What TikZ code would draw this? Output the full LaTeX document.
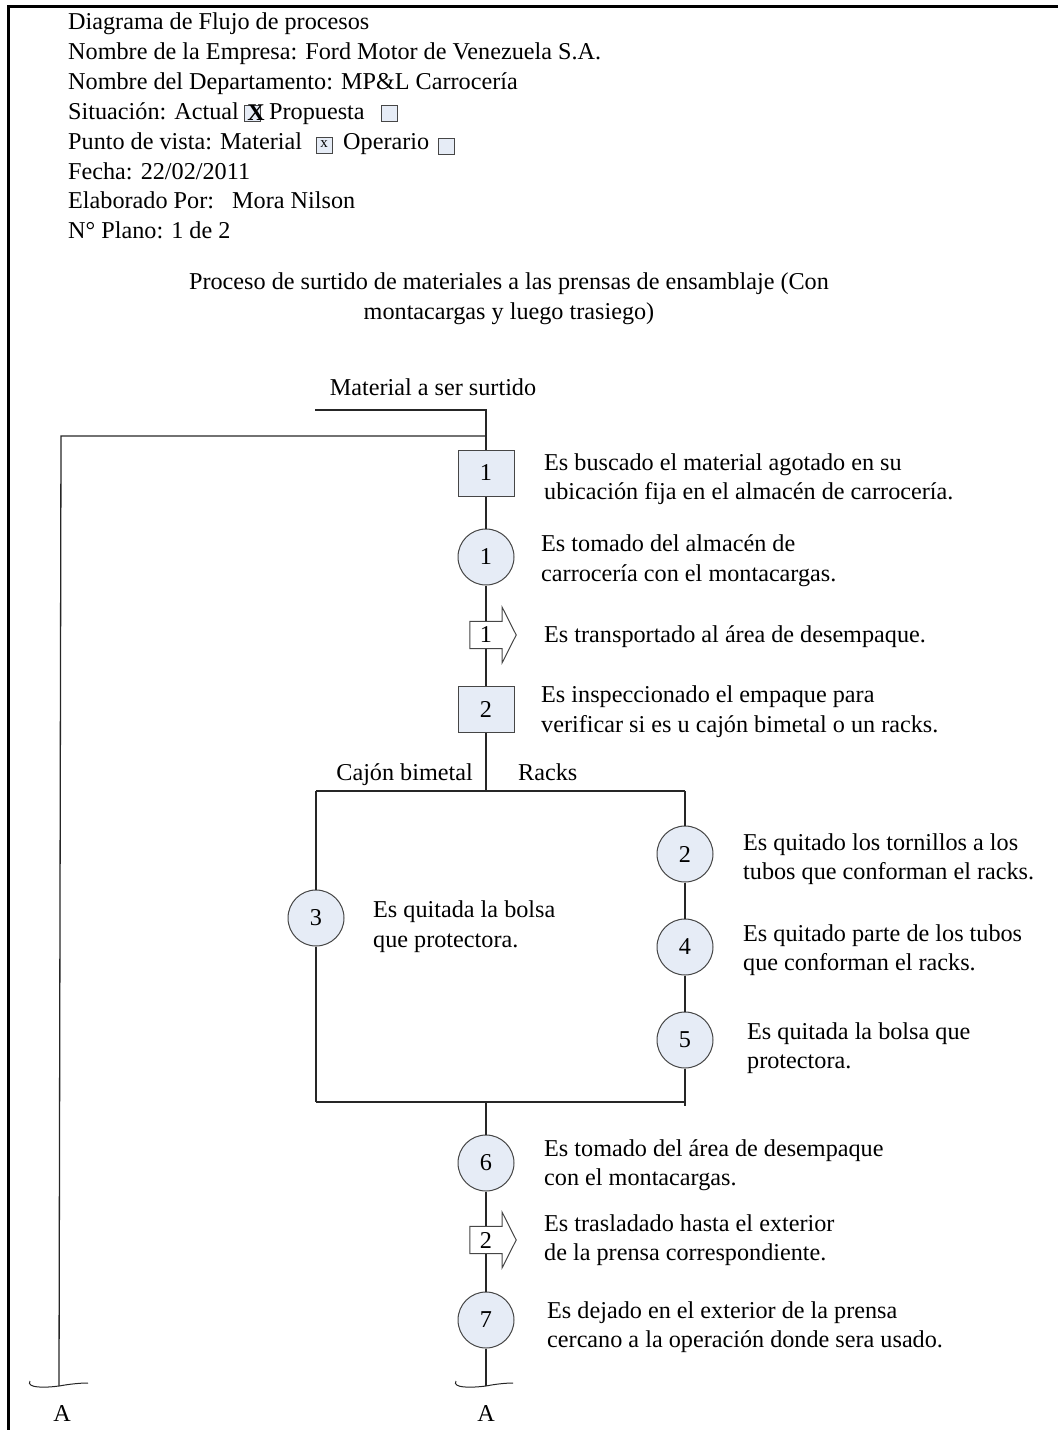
\documentclass[tikz,border=0pt]{standalone}
\usepackage{fontspec}
\setmainfont{Liberation Serif}
\usetikzlibrary{calc}
\definecolor{shapefill}{RGB}{230,236,246}
\definecolor{bordgray}{RGB}{70,70,70}
\begin{document}
\begin{tikzpicture}[x=1pt,y=-1pt,
  font=\fontsize{24.2}{29}\selectfont,
  txt/.style={anchor=base west, inner sep=0pt},
  ctxt/.style={anchor=base, inner sep=0pt},
  procbox/.style={draw=bordgray, line width=1pt, fill=shapefill, minimum width=56, minimum height=46, inner sep=0pt},
  opcirc/.style={circle, draw=bordgray, line width=1pt, fill=shapefill, minimum size=56, inner sep=0pt},
  shaft/.style={minimum width=32, minimum height=27, inner sep=0pt},
  conn/.style={line width=1.3pt, draw=black!85},
  chk/.style={draw=bordgray, line width=0.9pt, fill=shapefill, minimum width=16, minimum height=16, inner sep=0pt},
  brk/.style={line width=1pt, draw=black!85}
]
\useasboundingbox (0,0) rectangle (1058,1430);
% page frame
\draw[line width=3pt] (8,1430) -- (8,6) -- (1058,6);

% header
\node[txt] (h1) at (68,29) {Diagrama de Flujo de procesos};
\node[txt] (h2) at (68,59) {Nombre de la Empresa: Ford Motor de Venezuela S.A.};
\node[txt] (h3) at (68,89) {Nombre del Departamento: MP\&L Carrocería};
\node[txt] (h4) at (68,119) {Situación: Actual};
\node[chk] (k1) at (252,113) {};
\node[anchor=center, inner sep=0pt, font=\fontsize{24}{29}\selectfont\bfseries] (x1) at (256,113) {X};
\node[txt] (h4b) at (269,119) {Propuesta};
\node[chk] (k2) at (389,113) {};
\node[txt] (h5) at (68,149) {Punto de vista: Material};
\node[chk] (k3) at (324,145) {};
\node[anchor=center, inner sep=0pt, font=\fontsize{15}{18}\selectfont] (x3) at (324,144) {x};
\node[txt] (h5b) at (343,149) {Operario};
\node[chk] (k4) at (446,146) {};
\node[txt] (h6) at (68,179) {Fecha: 22/02/2011};
\node[txt] (h7) at (68,208) {Elaborado Por:\ \ \ Mora Nilson};
\node[txt] (h8) at (68,238) {N° Plano: 1 de 2};

% title
\node[ctxt] (t1) at (509,289) {Proceso de surtido de materiales a las prensas de ensamblaje (Con};
\node[ctxt] (t2) at (509,319) {montacargas y luego trasiego)};
\node[ctxt] (t3) at (433,395) {Material a ser surtido};

% nodes on the main line
\node[procbox] (b1) at (486,473) {1};
\node[opcirc] (c1) at (486,557) {1};
\node[shaft] (a1) at (486,635) {};
\draw[draw=bordgray, line width=1pt, fill=white]
  (a1.south west) -- (a1.north west) -- (a1.north east) -- ($(a1.north east)+(0,-14)$)
  -- ($(a1.east)+(14,0)$) -- ($(a1.south east)+(0,14)$) -- (a1.south east) -- cycle;
\node[shaft] at (a1) {1};
\node[procbox] (b2) at (486,709) {2};

% branch
\node[opcirc] (c3) at (316,918) {3};
\node[opcirc] (c2) at (685,854) {2};
\node[opcirc] (c4) at (685,947) {4};
\node[opcirc] (c5) at (685,1040) {5};

\node[opcirc] (c6) at (486,1163) {6};
\node[shaft] (a2) at (486,1240) {};
\draw[draw=bordgray, line width=1pt, fill=white]
  (a2.south west) -- (a2.north west) -- (a2.north east) -- ($(a2.north east)+(0,-14)$)
  -- ($(a2.east)+(14,0)$) -- ($(a2.south east)+(0,14)$) -- (a2.south east) -- cycle;
\node[shaft] at (a2) {2};
\node[opcirc] (c7) at (486,1320) {7};

% coordinates
\coordinate (m1) at (315,410);
\coordinate (m2) at (486,410);
\coordinate (j0) at (486,436);
\coordinate (l0) at (61,436);
\coordinate (lb) at (59,1386);
\coordinate (jb) at (486,791);
\coordinate (cl) at (316,791);
\coordinate (cr) at (685,791);
\coordinate (bl) at (316,1102);
\coordinate (br) at (685,1106);
\coordinate (br2) at (685,1102);
\coordinate (jm) at (486,1102);
\coordinate (rb) at (486,1386);

% connectors
\draw[conn] (m1) -- (m2) -- (b1);
\draw[conn] (j0) -- (l0) -- (lb);
\draw[conn] (b1) -- (c1);
\draw[conn] (c1) -- (a1.north);
\draw[conn] (a1.south) -- (b2);
\draw[conn] (b2) -- (jb);
\draw[conn] (cl) -- (cr);
\draw[conn] (cl) -- (c3) -- (bl);
\draw[conn] (cr) -- (c2) -- (c4) -- (c5) -- (br);
\draw[conn] (bl) -- (br2);
\draw[conn] (jm) -- (c6);
\draw[conn] (c6) -- (a2.north);
\draw[conn] (a2.south) -- (c7);
\draw[conn] (c7) -- (rb);

% break symbols
\draw[brk] (30,1381) .. controls (26,1388) and (44,1388) .. (lb) .. controls (70,1384) and (80,1383) .. (88,1383);
\draw[brk] (456,1381) .. controls (452,1388) and (470,1388) .. (rb) .. controls (496,1384) and (506,1383) .. (513,1383);
\node[ctxt] (A1) at (62,1421) {A};
\node[ctxt] (A2) at (486,1421) {A};

% branch labels
\node[anchor=base east, inner sep=0pt] (lcb) at (473,780) {Cajón bimetal};
\node[txt] (lrk) at (518,780) {Racks};

% descriptions
\node[txt] (d1a) at (544,470) {Es buscado el material agotado en su};
\node[txt] (d1b) at (544,499) {ubicación fija en el almacén de carrocería.};
\node[txt] (d2a) at (541,551) {Es tomado del almacén de};
\node[txt] (d2b) at (541,581) {carrocería con el montacargas.};
\node[txt] (d3a) at (544,642) {Es transportado al área de desempaque.};
\node[txt] (d4a) at (541,702) {Es inspeccionado el empaque para};
\node[txt] (d4b) at (541,732) {verificar si es u cajón bimetal o un racks.};
\node[txt] (d5a) at (743,850) {Es quitado los tornillos a los};
\node[txt] (d5b) at (743,879) {tubos que conforman el racks.};
\node[txt] (d6a) at (373,917) {Es quitada la bolsa};
\node[txt] (d6b) at (373,947) {que protectora.};
\node[txt] (d7a) at (743,941) {Es quitado parte de los tubos};
\node[txt] (d7b) at (743,970) {que conforman el racks.};
\node[txt] (d8a) at (747,1039) {Es quitada la bolsa que};
\node[txt] (d8b) at (747,1068) {protectora.};
\node[txt] (d9a) at (544,1156) {Es tomado del área de desempaque};
\node[txt] (d9b) at (544,1185) {con el montacargas.};
\node[txt] (d10a) at (544,1231) {Es trasladado hasta el exterior};
\node[txt] (d10b) at (544,1260) {de la prensa correspondiente.};
\node[txt] (d11a) at (547,1318) {Es dejado en el exterior de la prensa};
\node[txt] (d11b) at (547,1347) {cercano a la operación donde sera usado.};
\end{tikzpicture}
\end{document}
